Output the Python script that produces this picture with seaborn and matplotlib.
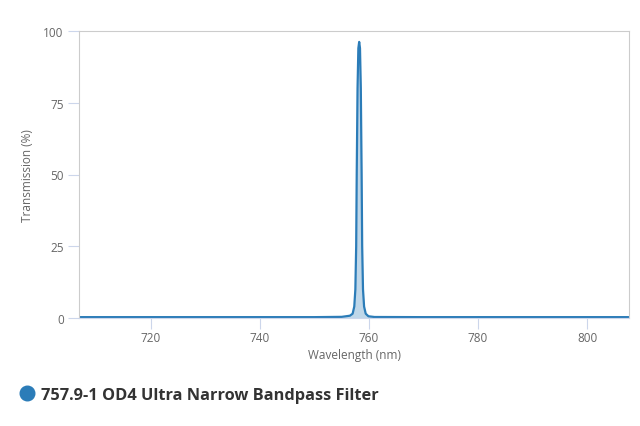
import numpy as np
import pandas as pd
import seaborn as sns
import matplotlib.pyplot as plt
from matplotlib.lines import Line2D

# transmission spectrum
wavelength = [706.8, 740.0, 750.0, 755.0, 756.5, 757.0, 757.3, 757.5, 757.65,
              757.75, 757.9, 758.05, 758.2, 758.35, 758.5, 758.65, 758.75,
              758.9, 759.1, 759.4, 759.9, 761.0, 770.0, 807.7]
transmission = [0.3, 0.3, 0.3, 0.4, 0.8, 1.5, 4.0, 10.0, 25.0,
                 50.0, 80.0, 94.0, 96.2, 94.0, 80.0, 50.0, 25.0,
                 10.0, 4.0, 1.5, 0.6, 0.35, 0.3, 0.3]
series_name = "757.9-1 OD4 Ultra Narrow Bandpass Filter"
x_ticks = [720, 740, 760, 780, 800]
y_ticks = [0, 25, 50, 75, 100]

df = pd.DataFrame({"Wavelength (nm)": wavelength, "Transmission (%)": transmission})

sns.set_theme(style="white")
plt.rcParams['font.family'] = ['Open Sans', 'DejaVu Sans']

line_color = "#2b7cb8"
axis_color = "#ccd6eb"
text_color = "#666666"

fig = plt.figure(figsize=(6.4, 4.27), dpi=100)
ax = fig.add_axes([79 / 640, 1 - 319 / 427, 550 / 640, 287 / 427])

sns.lineplot(data=df, x="Wavelength (nm)", y="Transmission (%)", ax=ax,
             color=line_color, linewidth=1.6, legend=False)
ax.fill_between(df["Wavelength (nm)"], df["Transmission (%)"], 0,
                color=line_color, alpha=0.3, linewidth=0)

ax.set_xlim(706.8, 807.7)
ax.set_ylim(0, 100)
ax.set_xticks(x_ticks)
ax.set_yticks(y_ticks)

for side in ["top", "right", "left"]:
    ax.spines[side].set_color("#cccccc")
    ax.spines[side].set_linewidth(0.8)
ax.spines["bottom"].set_color(axis_color)
ax.spines["bottom"].set_linewidth(0.8)

ax.tick_params(axis="x", direction="out", length=8, width=0.8, color=axis_color,
               labelsize=8.5, labelcolor=text_color, pad=1, bottom=True)
ax.tick_params(axis="y", direction="out", length=8, width=0.8, color=axis_color,
               labelsize=8.5, labelcolor=text_color, pad=3, left=True)

ax.set_xlabel("Wavelength (nm)", fontsize=8.5, color=text_color, labelpad=3)
ax.set_ylabel("Transmission (%)", fontsize=8.5, color=text_color, labelpad=7)

handle = Line2D([], [], marker="o", linestyle="none", markersize=10.5,
                markerfacecolor=line_color, markeredgecolor=line_color)
fig.legend([handle], [series_name], loc="center left",
           bbox_to_anchor=(0.004, 0.073), frameon=False, handletextpad=0.25,
           handlelength=1.2, prop={"family": ["Open Sans", "DejaVu Sans"],
                                   "weight": "bold", "size": 11.8},
           labelcolor="#333333")

fig.savefig("out.png", dpi=100)
